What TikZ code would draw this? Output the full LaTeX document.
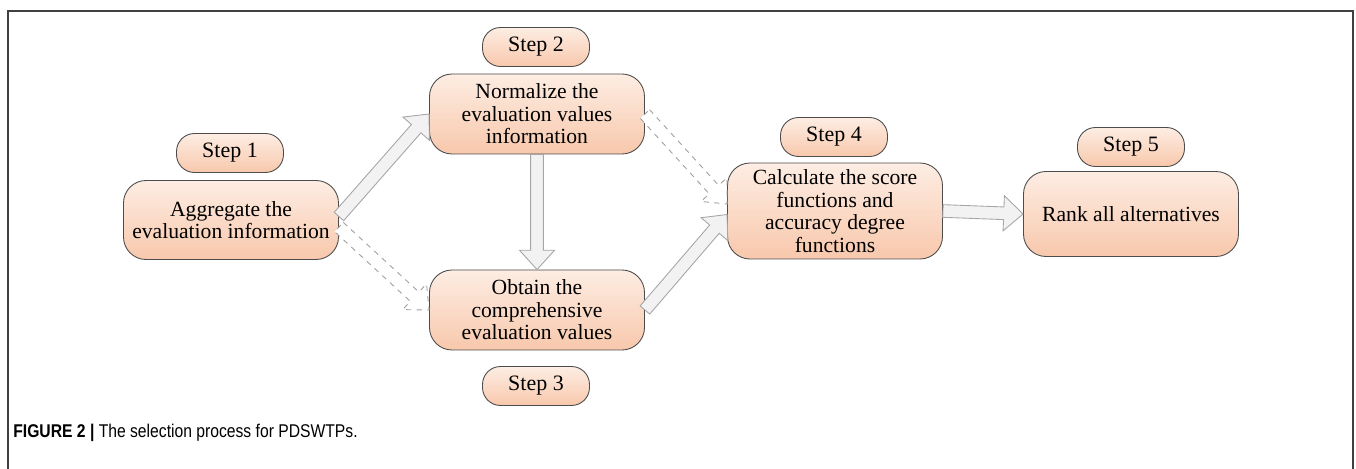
\documentclass[tikz,border=0pt]{standalone}
\usepackage{fontspec}
\setmainfont{Liberation Serif}
\setsansfont{Liberation Sans}
\newfontfamily\capfont[FakeStretch=0.85]{Liberation Sans}
\usetikzlibrary{calc}
\definecolor{peachtop}{HTML}{FDEDE3}
\definecolor{peachbot}{HTML}{F8C8AC}
\definecolor{arrfill}{HTML}{F2F2F2}
\tikzset{
  stepbox/.style={rectangle, draw=gray!60!black, line width=0.5pt,
    rounded corners=0.36cm, top color=peachtop, bottom color=peachbot,
    minimum width=2.14cm, minimum height=0.78cm, inner sep=1pt,
    font=\fontsize{12.5}{12.8}\selectfont, align=center},
  task/.style={rectangle, draw=gray!60!black, line width=0.5pt,
    rounded corners=0.45cm, top color=peachtop, bottom color=peachbot,
    minimum width=4.3cm, minimum height=1.6cm, inner sep=1pt,
    font=\fontsize{12.3}{12.8}\selectfont, align=center},
  fatarr/.style={draw=gray!70, line width=0.5pt, fill=arrfill, line join=miter},
  dasharr/.style={draw=gray!75, line width=0.5pt, dashed, fill=white}
}
% hollow block arrow between two points
\newcommand{\fatarrow}[3][fatarr]{%
  \path[#1] let \p1=#2, \p2=#3,
    \n1={atan2(\y2-\y1,\x2-\x1)}, \n2={veclen(\x2-\x1,\y2-\y1)-11pt},
    \n3={\n1+90}, \n4={\n1-90} in
    ($(\p1)+(\n3:3.6pt)$) -- ($(\p1)+(\n1:\n2)+(\n3:3.6pt)$)
    -- ($(\p1)+(\n1:\n2)+(\n3:10pt)$) -- (\p2)
    -- ($(\p1)+(\n1:\n2)+(\n4:10pt)$) -- ($(\p1)+(\n1:\n2)+(\n4:3.6pt)$)
    -- ($(\p1)+(\n4:3.6pt)$) -- cycle;}

\begin{document}
\begin{tikzpicture}

\useasboundingbox (0,0) rectangle (27.12,9.38);

%% ── Frame ──────────────────────────────────────────────
\draw[gray!50!black, line width=1pt] (0.16,0) -- (0.16,9.16) -- (27.06,9.16) -- (27.06,0);

%% ── Step labels ────────────────────────────────────────
\node[stepbox] (s1) at ( 4.60, 6.32) {Step 1};
\node[stepbox] (s2) at (10.72, 8.44) {Step 2};
\node[stepbox] (s3) at (10.72, 1.66) {Step 3};
\node[stepbox] (s4) at (16.68, 6.64) {Step 4};
\node[stepbox] (s5) at (22.62, 6.44) {Step 5};

%% ── Tasks ──────────────────────────────────────────────
\node[task, minimum height=1.58cm] (aggr) at ( 4.62, 4.98) {Aggregate the\\evaluation information};
\node[task] (norm)  at (10.74, 7.10) {Normalize the\\evaluation values\\information};
\node[task] (comp)  at (10.74, 3.18) {Obtain the\\comprehensive\\evaluation values};
\node[task, minimum height=1.92cm] (score) at (16.70, 5.16) {Calculate the score\\functions and\\accuracy degree\\functions};
\node[task, minimum height=1.7cm]  (rank)  at (22.62, 5.10) {Rank all alternatives};

%% ── Connections ────────────────────────────────────────
% Step 1 -> Step 2 / Step 3
\fatarrow{([yshift=2pt]aggr.east)}{(norm.west)}
\fatarrow[dasharr]{([yshift=-4pt]aggr.east)}{(comp.west)}

% Step 2 -> Step 3
\fatarrow{(norm.south)}{(comp.north)}

% Step 2 / Step 3 -> Step 4
\fatarrow[dasharr]{(norm.east)}{([yshift=4pt]score.west)}
\fatarrow{(comp.east)}{([yshift=-2pt]score.west)}

% Step 4 -> Step 5
\fatarrow{(score.east)}{(rank.west)}

%% ── Caption ────────────────────────────────────────────
\node[anchor=west, font=\capfont\fontsize{10.5}{12}\selectfont, inner sep=0pt] (cap) at (0.26,0.72)
  {\textbf{FIGURE 2 |} The selection process for PDSWTPs.};

\end{tikzpicture}
\end{document}
